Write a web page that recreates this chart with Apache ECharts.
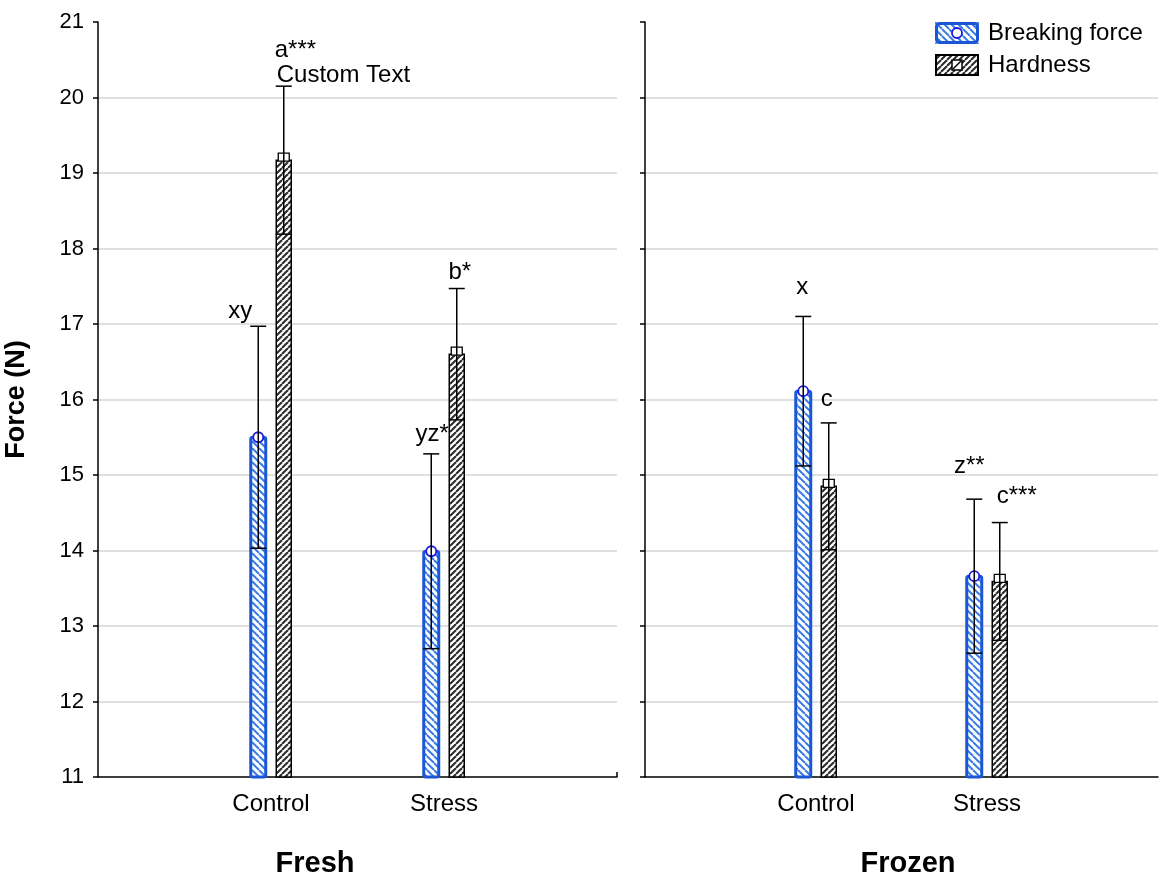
<!DOCTYPE html>
<html><head><meta charset="utf-8">
<script src="https://cdn.jsdelivr.net/npm/echarts@6/dist/echarts.min.js"></script>
<style>html,body{margin:0;padding:0;background:#fff}#c{width:1161px;height:877px}</style>
</head><body><div id="c"></div>
<script>
// ---------------- data ----------------
const categories = ['Control', 'Stress'];
const panelNames = ['Fresh', 'Frozen'];
const seriesNames = ['Breaking force', 'Hardness'];

const freshBreaking = [15.50, 13.99];
const freshBreakingErr = [1.47, 1.29];
const freshHardness = [19.17, 16.60];
const freshHardnessErr = [0.98, 0.87];

const frozenBreaking = [16.11, 13.66];
const frozenBreakingErr = [0.99, 1.02];
const frozenHardness = [14.85, 13.59];
const frozenHardnessErr = [0.84, 0.78];

const freshBreakingLabels = ['xy', 'yz*'];
const freshHardnessLabels = ['a***', 'b*'];
const frozenBreakingLabels = ['x', 'z**'];
const frozenHardnessLabels = ['c', 'c***'];
const customNote = 'Custom Text';

const yMin = 11, yMax = 21, yStep = 1;

// ---------------- styling helpers ----------------
const FONT = 'Arial, "Liberation Sans", Helvetica, sans-serif';
const BLUE = '#1b57d4';

function hatchCanvas(color, dir, size, lw) {
  const c = document.createElement('canvas');
  c.width = c.height = size;
  const g = c.getContext('2d');
  g.fillStyle = '#fff'; g.fillRect(0, 0, size, size);
  g.strokeStyle = color; g.lineWidth = lw;
  for (let k = -1; k <= 1; k++) {
    g.beginPath();
    if (dir === 'back') { g.moveTo(k * size, 0); g.lineTo(k * size + size, size); }
    else { g.moveTo(k * size, size); g.lineTo(k * size + size, 0); }
    g.stroke();
  }
  return c;
}
const blueHatch = hatchCanvas('#3a7be6', 'back', 7, 2);
const grayHatch = hatchCanvas('#2a2a2a', 'fwd', 6, 2);

function legendIcon(kind) {
  const c = document.createElement('canvas');
  c.width = 44; c.height = 22;
  const g = c.getContext('2d');
  g.fillStyle = g.createPattern(kind === 0 ? blueHatch : grayHatch, 'repeat');
  g.fillRect(0, 0, 44, 22);
  if (kind === 0) {
    g.strokeStyle = BLUE; g.lineWidth = 3;
    g.beginPath(); g.roundRect ? g.roundRect(1.5, 1.5, 41, 19, 3) : g.rect(1.5, 1.5, 41, 19); g.stroke();
    g.fillStyle = '#fff'; g.beginPath(); g.arc(22, 11, 5, 0, Math.PI * 2); g.fill();
    g.strokeStyle = '#1a1ae0'; g.lineWidth = 1.8; g.stroke();
  } else {
    g.strokeStyle = '#000'; g.lineWidth = 2;
    g.strokeRect(1, 1, 42, 20);
    g.fillStyle = '#fff'; g.fillRect(17, 6, 10, 10);
    g.lineWidth = 1.5; g.strokeRect(17, 6, 10, 10);
    g.beginPath(); g.moveTo(18, 15); g.lineTo(26, 7); g.stroke();
  }
  return c.toDataURL();
}

// label placement (px) relative to the top of each error bar: [dx, dy, align]
const labelOffsets = {
  'Fresh-0': [[-18, -15, 'center'], [1, -19, 'center']],
  'Fresh-1': [[-9, -36, 'left'], [3, -16, 'center']],
  'Frozen-0': [[-1, -29, 'center'], [-5, -33, 'center']],
  'Frozen-1': [[-2, -24, 'center'], [17, -26, 'center']]
};
const noteOffset = [-7, -11, 'left'];

const means = {
  'Fresh-0': freshBreaking, 'Fresh-1': freshHardness,
  'Frozen-0': frozenBreaking, 'Frozen-1': frozenHardness
};
const errs = {
  'Fresh-0': freshBreakingErr, 'Fresh-1': freshHardnessErr,
  'Frozen-0': frozenBreakingErr, 'Frozen-1': frozenHardnessErr
};
const labels = {
  'Fresh-0': freshBreakingLabels, 'Fresh-1': freshHardnessLabels,
  'Frozen-0': frozenBreakingLabels, 'Frozen-1': frozenHardnessLabels
};

const BAR_W = 15, BAR_SHIFT = 12.75, CAP_W = 16, LABEL_FS = 24;

function makeSeries(panelIdx, sIdx) {
  const key = panelNames[panelIdx] + '-' + sIdx;
  const m = means[key], e = errs[key], lb = labels[key], off = labelOffsets[key];
  return {
    type: 'custom',
    name: seriesNames[sIdx],
    xAxisIndex: panelIdx, yAxisIndex: panelIdx,
    clip: false,
    z: 5 + sIdx,
    encode: { x: 0, y: 1 },
    data: m.map((v, i) => [i + 1, v, e[i]]),
    renderItem: function (params, api) {
      const i = params.dataIndex;
      const cat = api.value(0), mean = api.value(1), err = api.value(2);
      const top = api.coord([cat, mean]);
      const base = api.coord([cat, yMin]);
      const hi = api.coord([cat, mean + err]);
      const lo = api.coord([cat, mean - err]);
      const cx = top[0] + (sIdx === 0 ? -BAR_SHIFT : BAR_SHIFT);
      const children = [];
      children.push({
        type: 'rect',
        shape: { x: cx - BAR_W / 2, y: top[1], width: BAR_W, height: base[1] - top[1], r: sIdx === 0 ? 2 : 0 },
        style: {
          fill: { image: sIdx === 0 ? blueHatch : grayHatch, repeat: 'repeat' },
          stroke: sIdx === 0 ? BLUE : '#000',
          lineWidth: sIdx === 0 ? 3 : 1.5
        }
      });
      if (sIdx === 0) {
        children.push({ type: 'circle', shape: { cx: cx, cy: top[1], r: 5 },
          style: { fill: '#fff', stroke: '#1a1ae0', lineWidth: 1.8 } });
      } else {
        children.push({ type: 'rect', shape: { x: cx - 5.5, y: top[1] - 7, width: 11, height: 8 },
          style: { fill: '#fff', stroke: '#000', lineWidth: 1.3 } });
      }
      const ls = { stroke: '#000', lineWidth: 1.5 };
      children.push({ type: 'line', shape: { x1: cx, y1: lo[1], x2: cx, y2: hi[1] }, style: ls });
      children.push({ type: 'line', shape: { x1: cx - CAP_W / 2, y1: hi[1], x2: cx + CAP_W / 2, y2: hi[1] }, style: ls });
      children.push({ type: 'line', shape: { x1: cx - CAP_W / 2, y1: lo[1], x2: cx + CAP_W / 2, y2: lo[1] }, style: ls });
      children.push({ type: 'text', style: {
        text: lb[i], x: cx + off[i][0], y: hi[1] + off[i][1],
        align: off[i][2], verticalAlign: 'middle', fill: '#000', fontSize: LABEL_FS, fontFamily: FONT } });
      if (panelIdx === 0 && sIdx === 1 && i === 0) {
        children.push({ type: 'text', style: {
          text: customNote, x: cx + noteOffset[0], y: hi[1] + noteOffset[1],
          align: noteOffset[2], verticalAlign: 'middle', fill: '#000', fontSize: LABEL_FS, fontFamily: FONT } });
      }
      return { type: 'group', children: children };
    }
  };
}

const axisCats = [''].concat(categories, ['']);

const option = {
  animation: false,
  backgroundColor: '#fff',
  textStyle: { fontFamily: FONT },
  grid: [
    { left: 98, top: 22, width: 519, bottom: 100 },
    { left: 645, top: 22, right: 0, bottom: 100 }
  ],
  xAxis: [0, 1].map(p => ({
    type: 'category', gridIndex: p, data: axisCats, boundaryGap: false,
    axisLine: { lineStyle: { color: '#000', width: 1.5 } },
    axisTick: { show: p === 0, inside: true, length: 5, interval: (idx) => idx === axisCats.length - 1,
      lineStyle: { color: '#000', width: 1.5 } },
    axisLabel: { color: '#000', fontSize: 24, margin: 15, fontFamily: FONT, interval: 0 },
    splitLine: { show: false }
  })),
  yAxis: [0, 1].map(p => ({
    type: 'value', gridIndex: p, min: yMin, max: yMax, interval: yStep,
    name: p === 0 ? 'Force (N)' : '',
    nameLocation: 'middle', nameGap: 68, nameRotate: 90,
    nameTextStyle: { color: '#000', fontSize: 27, fontWeight: 'bold', fontFamily: FONT },
    axisLine: { show: true, lineStyle: { color: '#000', width: 1.5 } },
    axisTick: { show: true, length: 5, lineStyle: { color: '#000', width: 1.5 } },
    axisLabel: { show: p === 0, color: '#000', fontSize: 22, margin: 14, fontFamily: FONT },
    splitLine: { show: true, showMaxLine: false, showMinLine: false, lineStyle: { color: '#d6d6d6', width: 1.5 } }
  })),
  legend: {
    orient: 'vertical', left: 935, top: 21, padding: 0,
    itemWidth: 44, itemHeight: 22, itemGap: 8,
    selectedMode: false,
    textStyle: { color: '#000', fontSize: 24, fontFamily: FONT, padding: [0, 0, 0, 4] },
    data: seriesNames.map((n, i) => ({ name: n, icon: 'image://' + legendIcon(i) }))
  },
  graphic: [
    { type: 'text', x: 315, y: 864, style: { text: panelNames[0], align: 'center', verticalAlign: 'middle',
      fontSize: 29, fontWeight: 'bold', fill: '#000', fontFamily: FONT } },
    { type: 'text', x: 908, y: 864, style: { text: panelNames[1], align: 'center', verticalAlign: 'middle',
      fontSize: 29, fontWeight: 'bold', fill: '#000', fontFamily: FONT } }
  ],
  series: [makeSeries(0, 0), makeSeries(0, 1), makeSeries(1, 0), makeSeries(1, 1)]
};

const chart = echarts.init(document.getElementById('c'), null, { renderer: 'canvas' });
chart.setOption(option);
</script>
</body></html>
